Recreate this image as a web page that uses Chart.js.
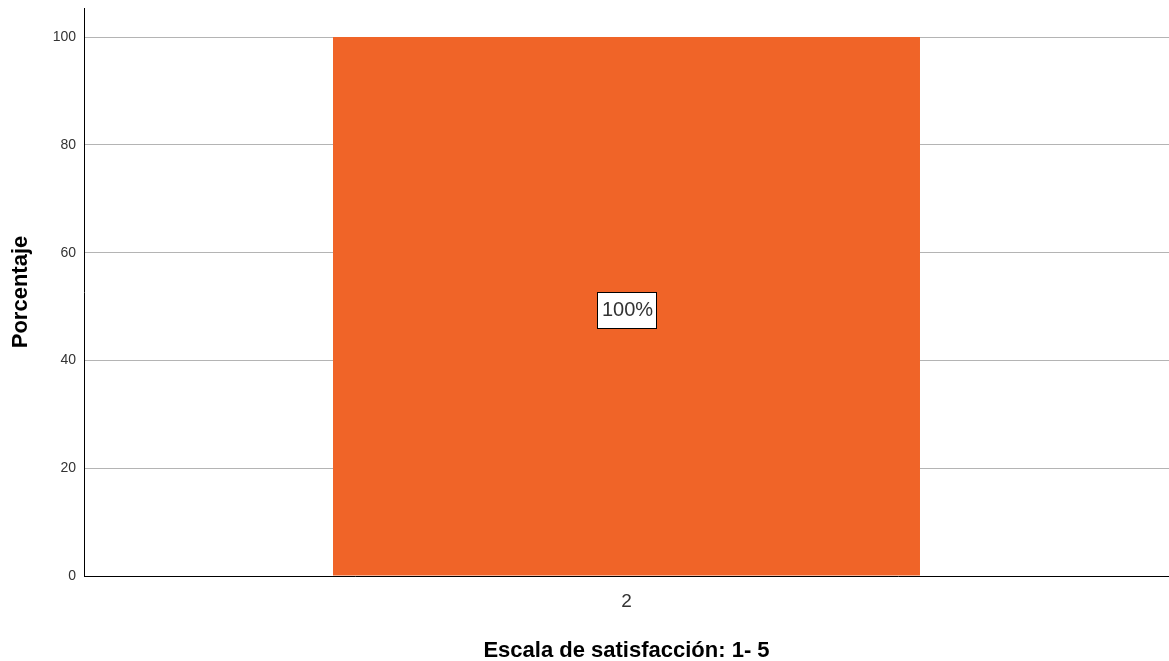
<!DOCTYPE html>
<html>
<head>
<meta charset="utf-8">
<script src="https://cdn.jsdelivr.net/npm/chart.js@4.4.1/dist/chart.umd.min.js"></script>
<style>
  body { margin: 0; background: #fff; }
  #wrap { width: 1169px; height: 661px; }
</style>
</head>
<body>
<div id="wrap"><canvas id="chart-satisfaccion"></canvas></div>
<script>
const categorias = ['2'];
const porcentajes = [100];
const etiquetas = ['100%'];
const ticksY = [0, 20, 40, 60, 80, 100];

// caja blanca con el porcentaje en el centro de la barra
const etiquetaBarra = {
  id: 'etiquetaBarra',
  afterDatasetsDraw(chart) {
    const ctx = chart.ctx;
    chart.getDatasetMeta(0).data.forEach((bar, i) => {
      const y = chart.scales.y.getPixelForValue(porcentajes[i] / 2) + 3;
      ctx.save();
      ctx.font = '20px Arial, "Liberation Sans"';
      const w = Math.round(ctx.measureText(etiquetas[i]).width + 8);
      const h = 36;
      const x0 = Math.round(bar.x - w / 2);
      const y0 = Math.round(y - h / 2);
      ctx.fillStyle = '#fff';
      ctx.fillRect(x0, y0, w, h);
      ctx.strokeStyle = '#000';
      ctx.lineWidth = 1;
      ctx.strokeRect(x0 + 0.5, y0 + 0.5, w, h);
      ctx.fillStyle = '#333';
      ctx.textAlign = 'center';
      ctx.textBaseline = 'middle';
      ctx.fillText(etiquetas[i], bar.x + 1, y + 1);
      ctx.restore();
    });
  }
};

const chartSatisfaccion = document.getElementById('chart-satisfaccion');

new Chart(chartSatisfaccion, {
  type: 'bar',
  data: {
    labels: categorias,
    datasets: [{
      data: porcentajes,
      backgroundColor: '#F06428',
      barPercentage: 0.541,
      categoryPercentage: 1
    }]
  },
  options: {
    responsive: true,
    maintainAspectRatio: false,
    animation: false,
    layout: { padding: { top: 8, right: 0, left: 4, bottom: 0 } },
    plugins: {
      legend: { display: false },
      tooltip: { enabled: false }
    },
    scales: {
      x: {
        grid: { display: false },
        border: { color: '#000', width: 1 },
        ticks: { color: '#333', font: { size: 19, family: 'Arial, "Liberation Sans"' }, padding: 6 },
        title: {
          display: true,
          text: 'Escala de satisfacción: 1- 5',
          color: '#000',
          font: { size: 22, weight: 'bold', family: 'Arial, "Liberation Sans"' },
          padding: { top: 4, bottom: -3 }
        },
        afterFit(scale) { scale.height = 85; }
      },
      y: {
        min: 0,
        max: 105.4,
        afterBuildTicks(scale) { scale.ticks = ticksY.map(v => ({ value: v })); },
        grid: { color: '#b4b4b4', drawTicks: false },
        border: { color: '#000', width: 1 },
        ticks: { color: '#333', font: { size: 14, family: 'Arial, "Liberation Sans"' }, padding: 8 },
        title: {
          display: true,
          text: 'Porcentaje',
          color: '#000',
          font: { size: 22, weight: 'bold', family: 'Arial, "Liberation Sans"' }
        },
        afterFit(scale) {
          scale.width = 80;
          scale.paddingTop = 0;
          scale.paddingBottom = 0;
        }
      }
    }
  },
  plugins: [etiquetaBarra]
});
</script>
</body>
</html>
